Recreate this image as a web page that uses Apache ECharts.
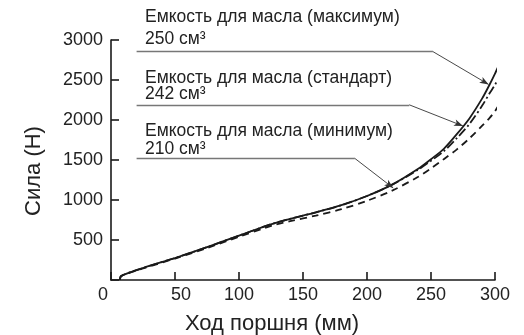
<!DOCTYPE html>
<html>
<head>
<meta charset="utf-8">
<script src="https://cdn.jsdelivr.net/npm/echarts@6/dist/echarts.min.js"></script>
<style>
  html, body { margin: 0; padding: 0; background: #fff; }
  #chart { width: 524px; height: 335px; }
</style>
</head>
<body>
<div id="chart"></div>
<script>
// ход поршня (мм)
const stroke = [7, 8, 25, 50, 75, 100, 120, 128, 140, 160, 180, 200, 220, 240, 250, 260, 270, 280, 290, 296, 300, 304];
// сила (Н)
const forceMax = [0, 50, 150, 275, 410, 555, 670, 712, 765, 845, 935, 1050, 1195, 1390, 1510, 1640, 1820, 2020, 2270, 2450, 2580, 2720];
const forceStd = [0, 50, 150, 275, 410, 555, 670, 712, 765, 845, 935, 1050, 1195, 1380, 1490, 1610, 1770, 1950, 2180, 2340, 2440, 2560];
const forceMin = [0, 50, 145, 268, 400, 540, 650, 690, 735, 805, 885, 990, 1120, 1290, 1395, 1510, 1630, 1770, 1930, 2030, 2110, 2215];

const xTicks = [0, 50, 100, 150, 200, 250, 300];
const yTicks = [500, 1000, 1500, 2000, 2500, 3000];

const captions = ['Емкость для масла (максимум)', 'Емкость для масла (стандарт)', 'Емкость для масла (минимум)'];
const volumes = ['250 см³', '242 см³', '210 см³'];
// выноски: [начало полки, конец полки, острие стрелки]
const leaders = [
  [[20, 2855], [251.5, 2855], [295, 2445]],
  [[20, 2190], [233, 2190], [275, 1925]],
  [[20, 1520], [190.5, 1520], [220.5, 1150]]
];

const font = 'Liberation Sans, Arial, sans-serif';
const ink = '#1a1a1a';

function pairs(ys) { return stroke.map((x, i) => [x, ys[i]]); }

function leaderLines(l) {
  return [
    [{coord: l[0], symbol: 'none'}, {coord: l[1], symbol: 'none', lineStyle: {color: '#777', width: 1.3}}],
    [{coord: l[1], symbol: 'none'}, {coord: l[2], symbol: 'arrow'}]
  ];
}

const chart = echarts.init(document.getElementById('chart'));

const curve = (name, ys, type, mlIdx) => ({
  name: name,
  type: 'line',
  data: pairs(ys),
  showSymbol: false,
  smooth: 0.3,
  clip: false,
  animation: false,
  lineStyle: {color: ink, width: 1.8, type: type},
  markLine: {
    silent: true,
    animation: false,
    symbolSize: [5, 9],
    label: {show: false},
    lineStyle: {color: '#333', width: 0.9, type: 'solid'},
    data: leaderLines(leaders[mlIdx])
  }
});

// базовые линии подписей (px)
const graphics = [];
const capBase = [23.3, 84.3, 137.7];
const volBase = [45.7, 101, 155.7];
const fs = 17.5;
for (let i = 0; i < 3; i++) {
  graphics.push({type: 'text', left: 145, top: capBase[i] - 15.5,
    style: {text: captions[i], font: fs + 'px ' + font, fill: '#222'}});
  graphics.push({type: 'text', left: 145, top: volBase[i] - 16,
    style: {text: volumes[i], font: fs + 'px ' + font, fill: '#222'}});
}

chart.setOption({
  animation: false,
  grid: {left: 111, right: 29, top: 40, bottom: 55, outerBoundsMode: 'none'},
  xAxis: {
    type: 'value', min: 0, max: 300, interval: 50,
    name: 'Ход поршня (мм)', nameLocation: 'middle', nameGap: 33,
    nameTextStyle: {fontFamily: font, fontSize: 22, color: '#222', padding: [0, 62, 0, 0]},
    axisLine: {lineStyle: {color: ink, width: 1.6}},
    axisTick: {inside: true, length: 8, lineStyle: {color: ink, width: 1.6}},
    axisLabel: {fontFamily: font, fontSize: 18, color: '#222', margin: 6,
      formatter: v => v === 0 ? '{z|0}' : v === 50 ? '{f|50}' : String(v),
      rich: {
        z: {fontFamily: font, fontSize: 18, color: '#222', padding: [0, 16, 0, 0]},
        f: {fontFamily: font, fontSize: 18, color: '#222', padding: [0, 0, 0, 12]}
      }},
    splitLine: {show: false}
  },
  yAxis: {
    type: 'value', min: 0, max: 3000, interval: 500,
    name: 'Сила (Н)', nameLocation: 'middle', nameGap: 66,
    nameTextStyle: {fontFamily: font, fontSize: 22, color: '#222', padding: [0, 22, 0, 0]},
    axisLine: {show: true, lineStyle: {color: ink, width: 1.6}},
    axisTick: {inside: true, length: 8, lineStyle: {color: ink, width: 1.6}},
    axisLabel: {fontFamily: font, fontSize: 18, color: '#222', margin: 8,
      formatter: v => yTicks.includes(v) ? String(v) : ''},
    splitLine: {show: false}
  },
  series: [
    curve('max', forceMax, 'solid', 0),
    curve('std', forceStd, [9, 3, 2, 3], 1),
    curve('min', forceMin, [7, 5], 2)
  ],
  graphic: graphics
});
</script>
</body>
</html>
